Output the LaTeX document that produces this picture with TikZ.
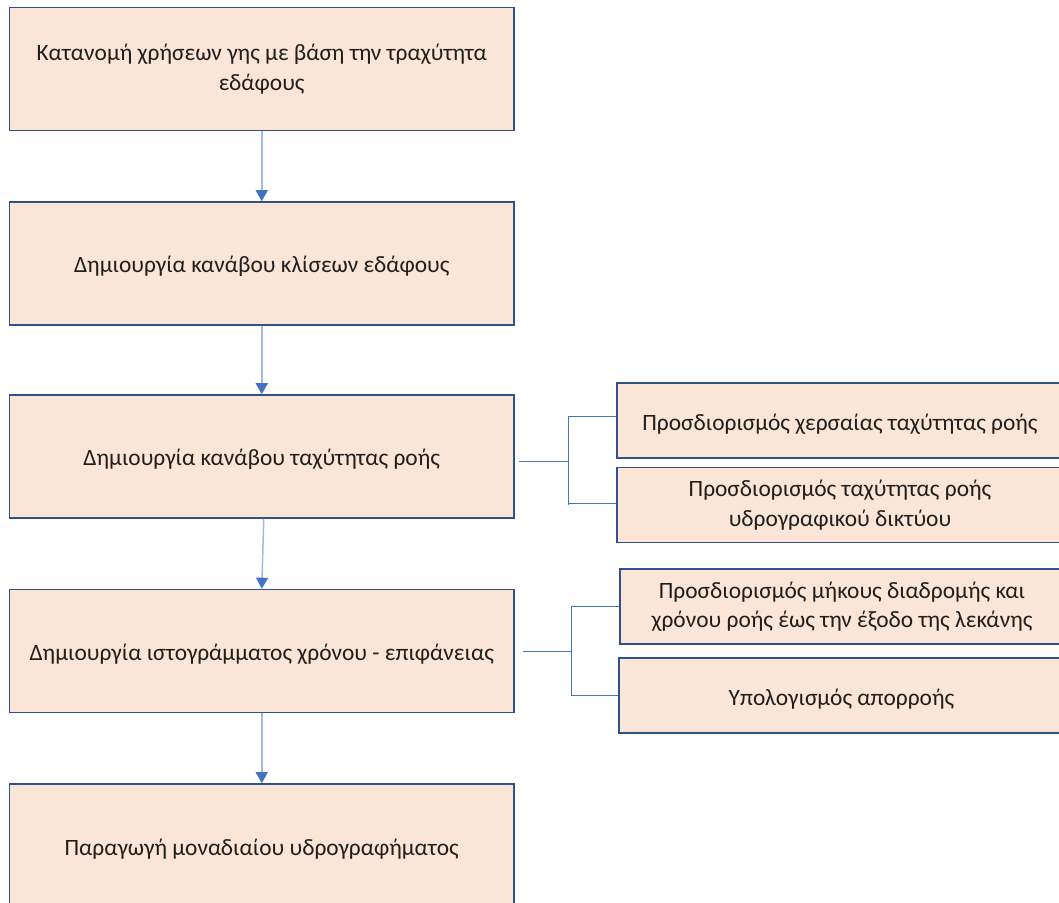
\documentclass[tikz,border=0pt]{standalone}
\usepackage{fontspec}
\setmainfont{Carlito}
\usetikzlibrary{arrows.meta}
\definecolor{boxfill}{HTML}{FBE5D6}
\definecolor{boxline}{HTML}{2F528F}
\definecolor{arrline}{HTML}{A3BAE4}
\definecolor{tipcol}{HTML}{4472C4}
\tikzset{
  stepbox/.style={draw=boxline, line width=1.6pt, fill=boxfill, rectangle,
    align=center, inner sep=0pt, font=\fontsize{23.4}{29.5}\selectfont, text=black!88,
    execute at begin node={\rule{0pt}{23pt}}},
  mainbox/.style={stepbox, minimum width=504.5pt, minimum height=123pt},
  sidebox/.style={stepbox, minimum width=446pt, minimum height=75pt},
  flow/.style={draw=arrline, line width=1.5pt,
    -{Triangle[width=12pt,length=11pt,color=tipcol]}},
  branch/.style={draw=tipcol, line width=1pt}
}
\begin{document}
\begin{tikzpicture}[x=1pt,y=-1pt]
\useasboundingbox (0,0) rectangle (1059,902);
\clip (0,0) rectangle (1059,902);

% main column
\node[mainbox] (b1) at (261.75,69) {Κατανομή χρήσεων γης με βάση την τραχύτητα\\εδάφους};
\node[mainbox] (b2) at (261.75,263.5) {Δημιουργία κανάβου κλίσεων εδάφους};
\node[mainbox] (b3) at (261.75,456.5) {Δημιουργία κανάβου ταχύτητας ροής};
\node[mainbox] (b4) at (261.75,651) {Δημιουργία ιστογράμματος χρόνου - επιφάνειας};
\node[mainbox] (b5) at (261.75,845.5) {Παραγωγή μοναδιαίου υδρογραφήματος};

% side boxes
\node[sidebox] (r1) at (840,420.5) {Προσδιορισμός χερσαίας ταχύτητας ροής};
\node[sidebox] (r2) at (840,505) {Προσδιορισμός ταχύτητας ροής\\υδρογραφικού δικτύου};
\node[sidebox, minimum width=444pt] (r3) at (842,606.5) {Προσδιορισμός μήκους διαδρομής και\\χρόνου ροής έως την έξοδο της λεκάνης};
\node[sidebox, minimum width=445pt] (r4) at (841.5,695.5) {Υπολογισμός απορροής};

% flow arrows
\draw[flow] (b1.south) -- (b2.north);
\draw[flow] (b2.south) -- (b3.north);
\coordinate (s3) at ([xshift=2pt]b3.south);
\draw[flow] (s3) -- (b4.north);
\draw[flow] (b4.south) -- (b5.north);

% bracket connectors
\coordinate (j3) at (568,461);
\draw[branch] ([xshift=4pt,yshift=-4.5pt]b3.east) -- (j3);
\draw[branch] (j3 |- r1.west) ++(0,-4.5) coordinate (t1) -- (j3 |- r2.west) ++(0,-2) coordinate (t2);
\draw[branch] (t1) -- (t1 -| r1.west);
\draw[branch] (t2) -- (t2 -| r2.west);

\coordinate (j4) at (571,651);
\draw[branch] ([xshift=8pt]b4.east) -- (j4);
\draw[branch] (j4 |- r3.west) coordinate (t3) -- (j4 |- r4.west) coordinate (t4);
\draw[branch] (t3) -- (r3.west);
\draw[branch] (t4) -- (r4.west);
\end{tikzpicture}
\end{document}
